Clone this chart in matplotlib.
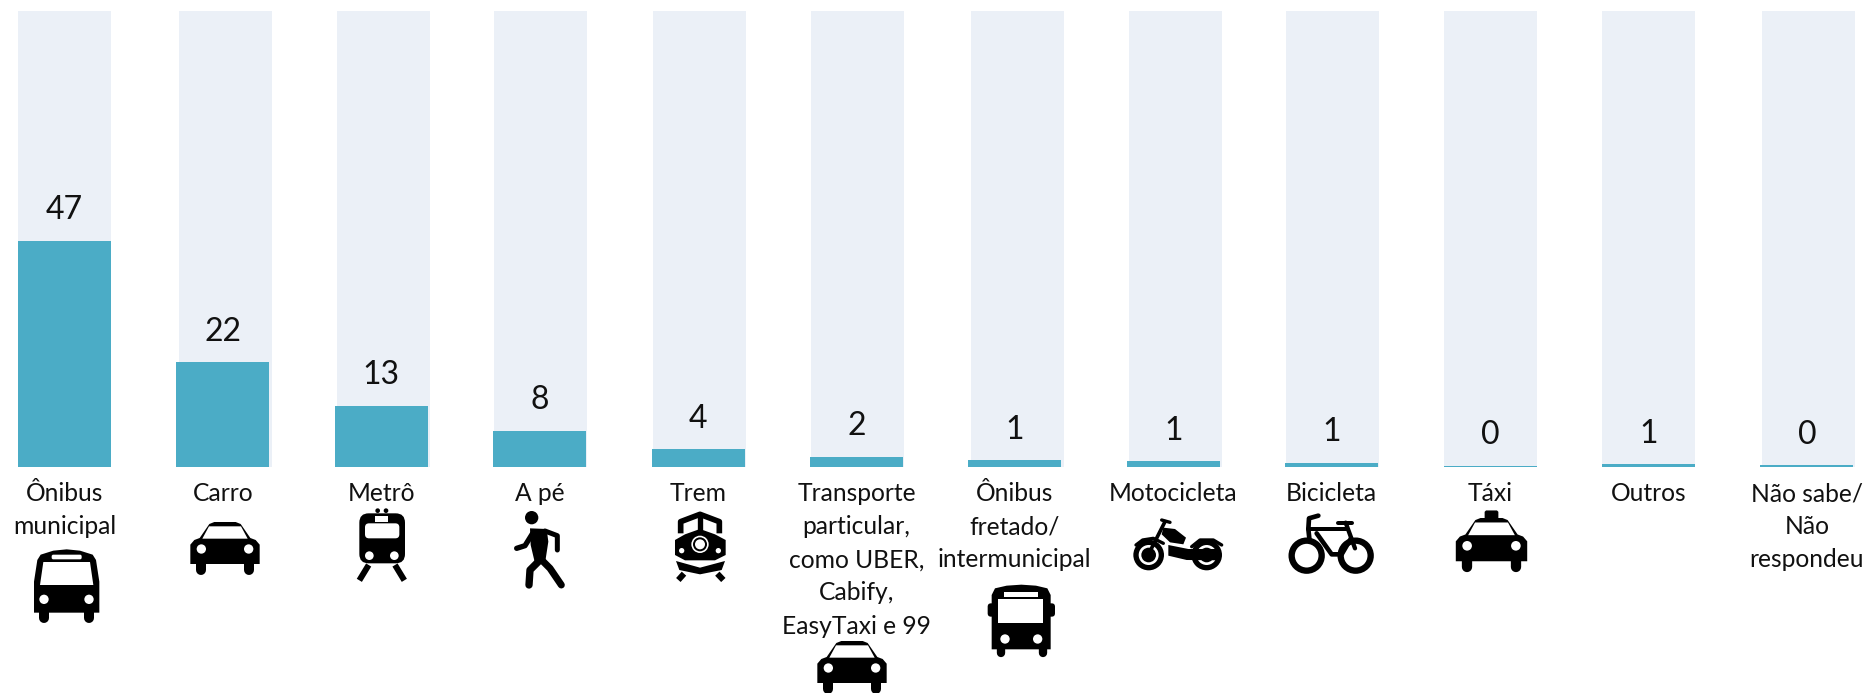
import matplotlib
matplotlib.use('Agg')
import matplotlib.pyplot as plt
from matplotlib.patches import Polygon, Circle, FancyBboxPatch
from matplotlib.transforms import Affine2D
import numpy as np

plt.rcParams['font.family'] = ['Lato', 'DejaVu Sans']

# data
categories = ['Ônibus\nmunicipal', 'Carro', 'Metrô', 'A pé', 'Trem',
              'Transporte\nparticular,\ncomo UBER,\nCabify,\nEasyTaxi e 99',
              'Ônibus\nfretado/\nintermunicipal', 'Motocicleta', 'Bicicleta',
              'Táxi', 'Outros', 'Não sabe/\nNão\nrespondeu']
bar_values = [47, 21.8, 12.7, 7.5, 3.7, 2.1, 1.4, 1.2, 0.9, 0.3, 0.6, 0.4]
value_labels = ['47', '22', '13', '8', '4', '2', '1', '1', '1', '0', '1', '0']
track_values = [95] * 12

W, H = 1868, 693
TEAL = '#4bacc6'
TRACK = '#ebf0f7'

fig = plt.figure(figsize=(W / 100, H / 100), dpi=100)

# axes runs from the bar baseline to the top of the picture
base_px = 467
ax = fig.add_axes([0, (H - base_px) / H, 1, base_px / H])
step = 158.4
ax.set_xlim(-64.5 / step, (W - 64.5) / step)
ax.set_ylim(0, base_px / 4.81)

x = np.arange(len(categories))
# the background bars sit a little off the teal ones
track_shift = np.array([0, 2.6, 1.7, 0.8, 1.4, 0.5, 2.6, 2.2, 0.8, 0.4, 0, 1.1]) / step
ax.bar(x + track_shift, track_values, width=93 / step, color=TRACK, bottom=-0.15)
bars = ax.bar(x, bar_values, width=93 / step, color=TEAL)

for bar, lab in zip(bars, value_labels):
    ax.annotate(lab, (bar.get_x() + bar.get_width() / 2, bar.get_height()),
                xytext=(0, 22), textcoords='offset points',
                ha='center', va='center', fontsize=23, color='#111111')

ax.set_xticks(x)
ax.set_xticklabels(categories, fontsize=17.7, color='#111111', linespacing=1.53)
ax.tick_params(axis='x', length=0, pad=11)
ax.set_yticks([])
for s in ax.spines.values():
    s.set_visible(False)

# icons, in picture pixels
iax = fig.add_axes([0, 0, 1, 1])
iax.set_xlim(0, W)
iax.set_ylim(H, 0)
iax.axis('off')
iax.patch.set_visible(False)


def tf(x0, y0, s=1 / 3):
    return Affine2D().scale(s).translate(x0, y0) + iax.transData


def poly(t, pts, color='black'):
    iax.add_patch(Polygon(pts, closed=True, fc=color, ec='none', transform=t))


def disc(t, xy, r, color='white'):
    iax.add_patch(Circle(xy, r, fc=color, ec='none', transform=t))


def stroke(t, xs, ys, width, s=1 / 3, cap='round', color='black'):
    iax.plot(xs, ys, color=color, lw=width * s * 0.72, solid_capstyle=cap,
             solid_joinstyle='round', transform=t)


def box(t, x0, y0, w, h, r, color='black'):
    iax.add_patch(FancyBboxPatch((x0, y0), w, h, boxstyle=f'round,pad=0,rounding_size={r}',
                                 fc=color, ec='none', transform=t))


def car(cx, top, s=1 / 3):
    t = tf(cx, top, s)
    poly(t, [(-104, 126), (-104, 68), (-92, 54), (-76, 48), (-47, 6), (-32, 0), (32, 0),
             (47, 6), (76, 48), (92, 54), (104, 68), (104, 126)])
    poly(t, [(-68, 50), (-48, 13), (48, 13), (68, 50)], 'white')
    disc(t, (-71, 81), 14)
    disc(t, (71, 81), 14)
    for wx in (-71, 71):
        stroke(t, [wx, wx], [120, 143], 30, s)
    return t


# bus, front view, under "Ônibus municipal"
t = tf(20, 540)
poly(t, [(42, 218), (42, 125), (52, 60), (62, 44), (100, 32), (140, 28), (180, 32), (218, 44),
         (228, 60), (238, 125), (238, 218)])
poly(t, [(60, 135), (70, 66), (210, 66), (220, 135)], 'white')
box(t, 95, 44, 90, 14, 5, 'white')
disc(t, (72, 178), 14)
disc(t, (207, 178), 14)
for wx in (73, 207):
    stroke(t, [wx, wx], [215, 233], 30)

# cars
car(225, 522)
car(852, 641)

# metro
t = tf(340, 505)
box(t, 58, 25, 137, 150, 28)
disc(t, (113, 17), 7, 'black')
disc(t, (138, 17), 7, 'black')
poly(t, [(105, 33), (143, 33), (143, 50), (105, 50)], 'white')
box(t, 75, 55, 103, 45, 12, 'white')
disc(t, (88, 152), 13)
disc(t, (163, 152), 13)
stroke(t, [86, 58], [180, 226], 18, cap='butt')
stroke(t, [165, 193], [180, 226], 18, cap='butt')

# walker
t = tf(340, 505)
disc(t, (575, 38), 20, 'black')
poly(t, [(570, 70), (620, 72), (625, 110), (615, 175), (585, 175), (572, 120)])
stroke(t, [578, 555, 530], [85, 122, 130], 16)
stroke(t, [615, 652, 652], [78, 92, 135], 15)
stroke(t, [600, 570, 567], [165, 195, 240], 22)
stroke(t, [605, 630, 664], [165, 190, 240], 21)

# locomotive
t = tf(660, 505)
stroke(t, [62, 62, 120, 178, 178], [85, 50, 28, 50, 85], 17, cap='butt')
stroke(t, [120, 120], [28, 75], 16, cap='butt')
poly(t, [(45, 105), (75, 88), (120, 72), (165, 88), (197, 105), (197, 150), (165, 166), (75, 166), (45, 150)])
disc(t, (120, 118), 26)
disc(t, (120, 118), 21, 'black')
disc(t, (120, 118), 15)
disc(t, (65, 137), 8)
disc(t, (175, 137), 8)
poly(t, [(48, 168), (120, 188), (195, 168), (185, 195), (120, 208), (58, 195)])
stroke(t, [72, 55], [206, 225], 18, cap='butt')
stroke(t, [172, 190], [206, 225], 18, cap='butt')

# bus, straight front, under "Ônibus fretado"
t = tf(960, 570)
box(t, 83, 100, 202, 40, 10)
poly(t, [(95, 238), (95, 75), (105, 55), (140, 47), (184, 44), (228, 47), (262, 55), (272, 75), (272, 238)])
poly(t, [(115, 87), (250, 87), (250, 158), (115, 158)], 'white')
poly(t, [(133, 65), (233, 65), (233, 80), (133, 80)], 'white')
disc(t, (135, 207), 14)
disc(t, (233, 207), 14)
for wx in (122, 249):
    stroke(t, [wx, wx], [235, 250], 25)

# motorcycle
t = tf(1120, 505)
for wx in (86, 260):
    disc(t, (wx, 150), 46, 'black')
    disc(t, (wx, 150), 30)
disc(t, (86, 150), 22, 'black')
disc(t, (260, 150), 22, 'black')
stroke(t, [135, 92], [50, 135], 11)
stroke(t, [125, 150], [45, 52], 10)
poly(t, [(130, 68), (165, 72), (198, 98), (190, 118), (150, 112), (125, 88)])
poly(t, [(145, 120), (205, 132), (292, 132), (302, 166), (200, 165), (145, 152)])
stroke(t, [48, 68, 100, 130], [120, 105, 100, 115], 10)
stroke(t, [215, 240, 280, 305], [125, 105, 105, 120], 10)

# bicycle
t = tf(1120, 505)
for wx in (560, 707):
    iax.add_patch(Circle((wx, 152), 45, fc='none', ec='black', lw=19 / 3 * 0.72, transform=t))
stroke(t, [595, 567, 565, 568], [32, 40, 72, 100], 14)
stroke(t, [565, 680], [72, 72], 12)
stroke(t, [655, 697], [53, 53], 12)
stroke(t, [677, 705], [53, 130], 13)
stroke(t, [590, 635, 665, 693], [85, 148, 148, 100], 14)

# taxi
tx = car(1491.5, 518, 1.03 / 3)
poly(tx, [(-20, 2), (-20, -18), (-16, -22), (16, -22), (20, -18), (20, 2)])

fig.savefig('out.png', dpi=100)
